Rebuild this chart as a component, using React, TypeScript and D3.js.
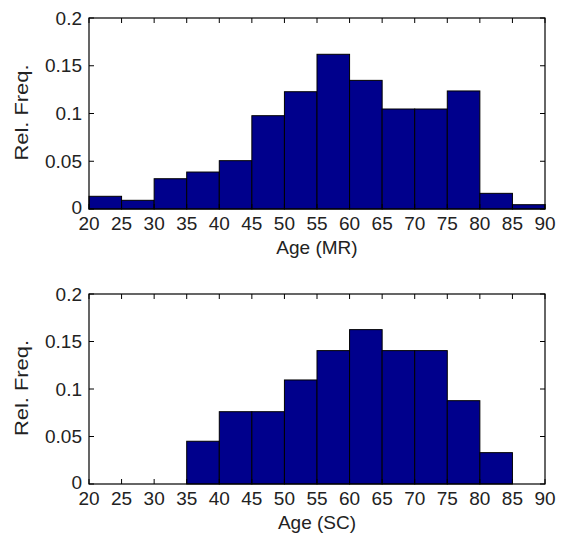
import React from "react";
import * as d3 from "d3";

// Histogram bins (left edges, width 5 years) and relative frequencies
const binStarts = [20, 25, 30, 35, 40, 45, 50, 55, 60, 65, 70, 75, 80, 85];
const freqMR = [0.0133, 0.0091, 0.0317, 0.0387, 0.0506, 0.0977, 0.1228, 0.162, 0.1347, 0.1047, 0.1047, 0.1236, 0.0164, 0.0045];
const freqSC = [0, 0, 0, 0.045, 0.0761, 0.0761, 0.1095, 0.1404, 0.1625, 0.1404, 0.1404, 0.0877, 0.033, 0];
const xTicks = [20, 25, 30, 35, 40, 45, 50, 55, 60, 65, 70, 75, 80, 85, 90];
const yTicks = [0, 0.05, 0.1, 0.15, 0.2];
const yTickLabels = ["0", "0.05", "0.1", "0.15", "0.2"];
const binWidth = 5;

const FONT = "'Liberation Sans', Arial, sans-serif";
const TEXT = "#222";

type PanelProps = { top: number; bottom: number; values: number[]; xLabel: string };

function Panel({ top, bottom, values, xLabel }: PanelProps) {
  const left = 89;
  const right = 545;
  const x = d3.scaleLinear().domain([20, 90]).range([left, right]);
  const y = d3.scaleLinear().domain([0, 0.2]).range([bottom, top]);
  const tl = 5;
  return (
    <g>
      {binStarts.map((b, i) =>
        values[i] > 0 ? (
          <rect
            key={b}
            x={x(b)}
            y={y(values[i])}
            width={x(b + binWidth) - x(b)}
            height={y(0) - y(values[i])}
            fill="#00008c"
            stroke="#000000"
            strokeWidth={1}
          />
        ) : null
      )}
      <rect x={left} y={top} width={right - left} height={bottom - top} fill="none" stroke="#000" strokeWidth={1.2} />
      {xTicks.map((t) => (
        <g key={"x" + t}>
          <line x1={x(t)} x2={x(t)} y1={bottom} y2={bottom - tl} stroke="#000" />
          <line x1={x(t)} x2={x(t)} y1={top} y2={top + tl} stroke="#000" />
          <text x={x(t)} y={bottom + 21} textAnchor="middle" fontFamily={FONT} fontSize={19} fill={TEXT}>
            {t}
          </text>
        </g>
      ))}
      {yTicks.map((t, i) => (
        <g key={"y" + t}>
          <line x1={left} x2={left + tl} y1={y(t)} y2={y(t)} stroke="#000" />
          <line x1={right} x2={right - tl} y1={y(t)} y2={y(t)} stroke="#000" />
          <text
            x={left - 7}
            y={t === 0 ? y(t) - 2 : y(t)}
            dy="0.35em"
            textAnchor="end"
            fontFamily={FONT}
            fontSize={19}
            fill={TEXT}
          >
            {yTickLabels[i]}
          </text>
        </g>
      ))}
      <text x={(left + right) / 2} y={bottom + 45} textAnchor="middle" fontFamily={FONT} fontSize={19} fill={TEXT}>
        {xLabel}
      </text>
      <text
        transform={`translate(28,${(top + bottom) / 2 - 1}) rotate(-90)`}
        textAnchor="middle"
        fontFamily={FONT}
        fontSize={19}
        textLength={96}
        lengthAdjust="spacingAndGlyphs"
        fill={TEXT}
      >
        Rel. Freq.
      </text>
    </g>
  );
}

export default function App() {
  return (
    <svg
      width={561}
      height={546}
      style={{ position: "absolute", left: 0, top: 0, background: "#fff" }}
    >
      <rect width={561} height={546} fill="#fff" />
      <Panel top={18} bottom={209} values={freqMR} xLabel="Age (MR)" />
      <Panel top={294} bottom={484} values={freqSC} xLabel="Age (SC)" />
    </svg>
  );
}
